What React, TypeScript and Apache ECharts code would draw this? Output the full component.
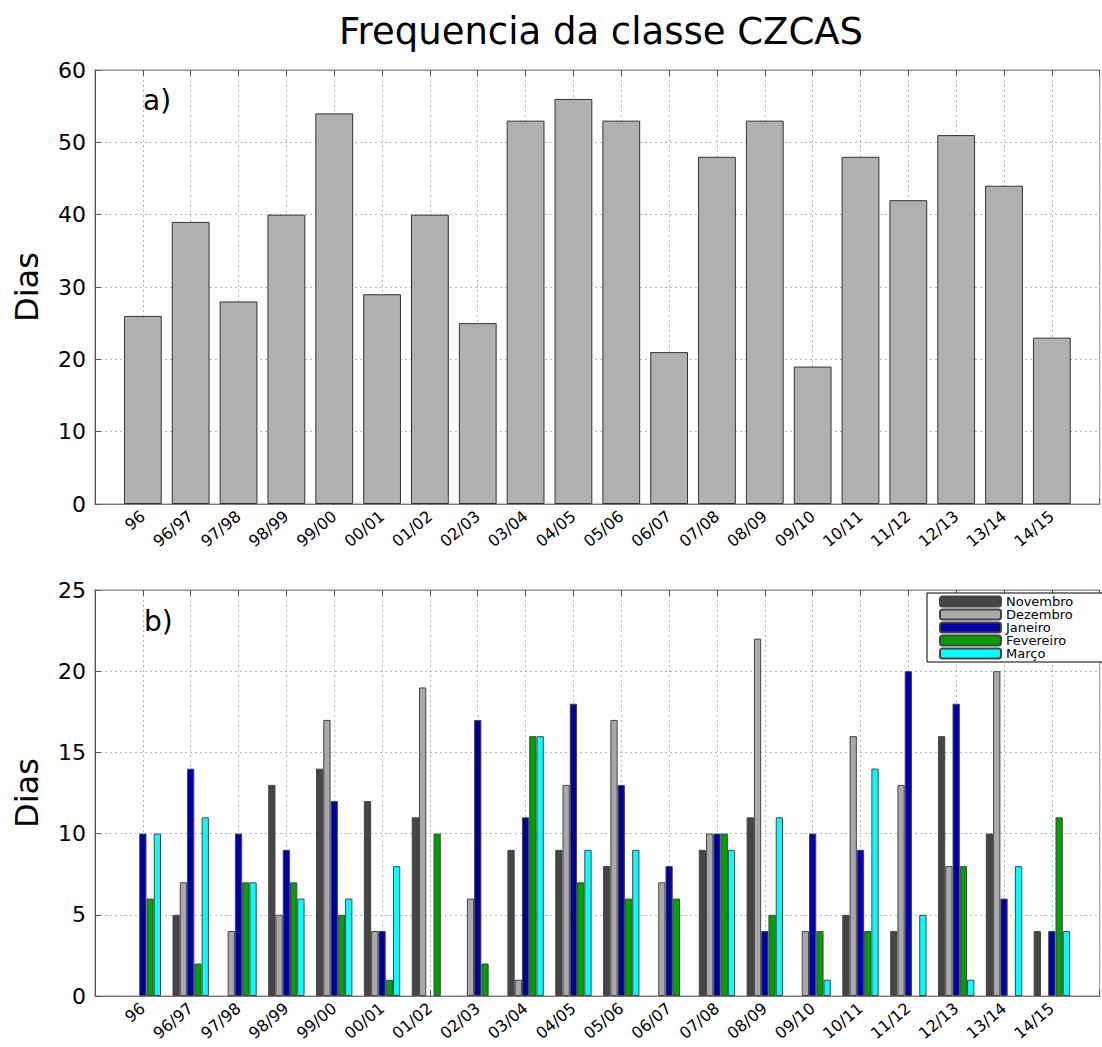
import React, { useEffect, useRef } from "react";
import * as echarts from "echarts";

const seasons = ["96", "96/97", "97/98", "98/99", "99/00", "00/01", "01/02", "02/03", "03/04", "04/05", "05/06", "06/07", "07/08", "08/09", "09/10", "10/11", "11/12", "12/13", "13/14", "14/15"];
const totals = [26, 39, 28, 40, 54, 29, 40, 25, 53, 56, 53, 21, 48, 53, 19, 48, 42, 51, 44, 23];
const novembro = [0, 5, 0, 13, 14, 12, 11, 0, 9, 9, 8, 0, 9, 11, 0, 5, 4, 16, 10, 4];
const dezembro = [0, 7, 4, 5, 17, 4, 19, 6, 1, 13, 17, 7, 10, 22, 4, 16, 13, 8, 20, 0];
const janeiro = [10, 14, 10, 9, 12, 4, 0, 17, 11, 18, 13, 8, 10, 4, 10, 9, 20, 18, 6, 4];
const fevereiro = [6, 2, 7, 7, 5, 1, 10, 2, 16, 7, 6, 6, 10, 5, 4, 4, 0, 8, 0, 11];
const marco = [10, 11, 7, 6, 6, 8, 0, 0, 16, 9, 9, 0, 9, 11, 1, 14, 5, 1, 8, 4];
const monthNames = ["Novembro", "Dezembro", "Janeiro", "Fevereiro", "Março"];
const monthColors = ["#454545", "#a9a9a9", "#0000a8", "#00a000", "#00ffff"];
const topTicks = [0, 10, 20, 30, 40, 50, 60];
const bottomTicks = [0, 5, 10, 15, 20, 25];

const FONT = "DejaVu Sans";

export default function App() {
  const ref = useRef<HTMLDivElement>(null);
  useEffect(() => {
    if (!ref.current) return;
    const chart = echarts.init(ref.current, null, { renderer: "svg" });
    const cats = ["", ...seasons, ""];
    // zero-day bars are not drawn in the reference
    const pad = (a: number[]) => ["-", ...a.map((v) => (v === 0 ? "-" : v)), "-"];
    const monthly = [novembro, dezembro, janeiro, fevereiro, marco];

    const gridLine = { show: true, lineStyle: { color: "#b5b5b5", type: [2, 3] as any, width: 1 } };
    const xBase = (gridIndex: number) => ({
      type: "category" as const,
      gridIndex,
      data: cats,
      boundaryGap: false,
      axisLine: { show: true, lineStyle: { color: "#777", width: 1 } },
      axisTick: { show: true, inside: true, length: 6, interval: 0, lineStyle: { color: "#555" } },
      axisLabel: { show: true, interval: 0, rotate: 40, fontSize: 16, fontFamily: FONT, color: "#000", margin: 10 },
      splitLine: { ...gridLine, interval: 0 },
    });
    const xTop = (gridIndex: number) => ({
      type: "category" as const,
      gridIndex,
      position: "top" as const,
      data: cats,
      boundaryGap: false,
      axisLine: { show: true, lineStyle: { color: "#999", width: 1 } },
      axisTick: { show: true, inside: true, length: 6, interval: 0, lineStyle: { color: "#555" } },
      axisLabel: { show: false },
      splitLine: { show: false },
    });
    const yBase = (gridIndex: number, max: number, interval: number, ticks: number[]) => ({
      type: "value" as const,
      gridIndex,
      min: 0,
      max,
      interval,
      name: "Dias",
      nameLocation: "middle" as const,
      nameRotate: 90,
      nameGap: 52,
      nameTextStyle: { fontSize: 32, fontFamily: FONT, color: "#000" },
      axisLine: { show: true, lineStyle: { color: "#555", width: 1 } },
      axisTick: { show: true, inside: true, length: 6, lineStyle: { color: "#555" } },
      axisLabel: {
        fontSize: 22, fontFamily: FONT, color: "#000", margin: 9,
        formatter: (v: number) => (ticks.includes(v) ? String(v) : ""),
      },
      splitLine: gridLine,
    });

    const option: any = {
      animation: false,
      backgroundColor: "#fff",
      title: {
        text: "Frequencia da classe CZCAS",
        left: 596,
        textAlign: "center",
        top: 8,
        textStyle: { fontSize: 37, fontWeight: "normal", fontFamily: FONT, color: "#000" },
      },
      grid: [
        { left: 95, top: 70, width: 1012, height: 434, show: true, borderColor: "#888", borderWidth: 1, backgroundColor: "#fff" },
        { left: 95, top: 590, width: 1012, height: 406, show: true, borderColor: "#888", borderWidth: 1, backgroundColor: "#fff" },
      ],
      xAxis: [xBase(0), xTop(0), xBase(1), xTop(1)],
      yAxis: [yBase(0, 60, 10, topTicks), yBase(1, 25, 5, bottomTicks)],
      legend: {
        data: monthNames,
        orient: "vertical",
        left: 927,
        top: 593,
        width: 200,
        padding: [2, 100, 2, 12],
        itemWidth: 61,
        itemHeight: 10,
        itemGap: 0,
        backgroundColor: "#fff",
        borderColor: "#000",
        borderWidth: 1,
        borderRadius: 0,
        textStyle: { fontSize: 13, fontFamily: FONT, color: "#000" },
      },
      graphic: [
        { type: "text", left: 143, top: 86, style: { text: "a)", fontSize: 28, fontFamily: FONT, fill: "#000" } },
        { type: "text", left: 144, top: 607, style: { text: "b)", fontSize: 28, fontFamily: FONT, fill: "#000" } },
      ],
      series: [
        {
          type: "bar",
          name: "CZCAS",
          xAxisIndex: 0,
          yAxisIndex: 0,
          data: pad(totals),
          barCategoryGap: "21%",
          itemStyle: { color: "#b0b0b0", borderColor: "#333", borderWidth: 1 },
        },
        ...monthly.map((arr, i) => ({
          type: "bar",
          name: monthNames[i],
          xAxisIndex: 2,
          yAxisIndex: 1,
          data: pad(arr),
          barGap: "0%",
          barCategoryGap: "24%",
          itemStyle: { color: monthColors[i], borderColor: "#444", borderWidth: 1 },
        })),
      ],
    };
    chart.setOption(option);
    return () => chart.dispose();
  }, []);
  return <div ref={ref} style={{ position: "fixed", left: 0, top: 0, width: 1102, height: 1047 }} />;
}
